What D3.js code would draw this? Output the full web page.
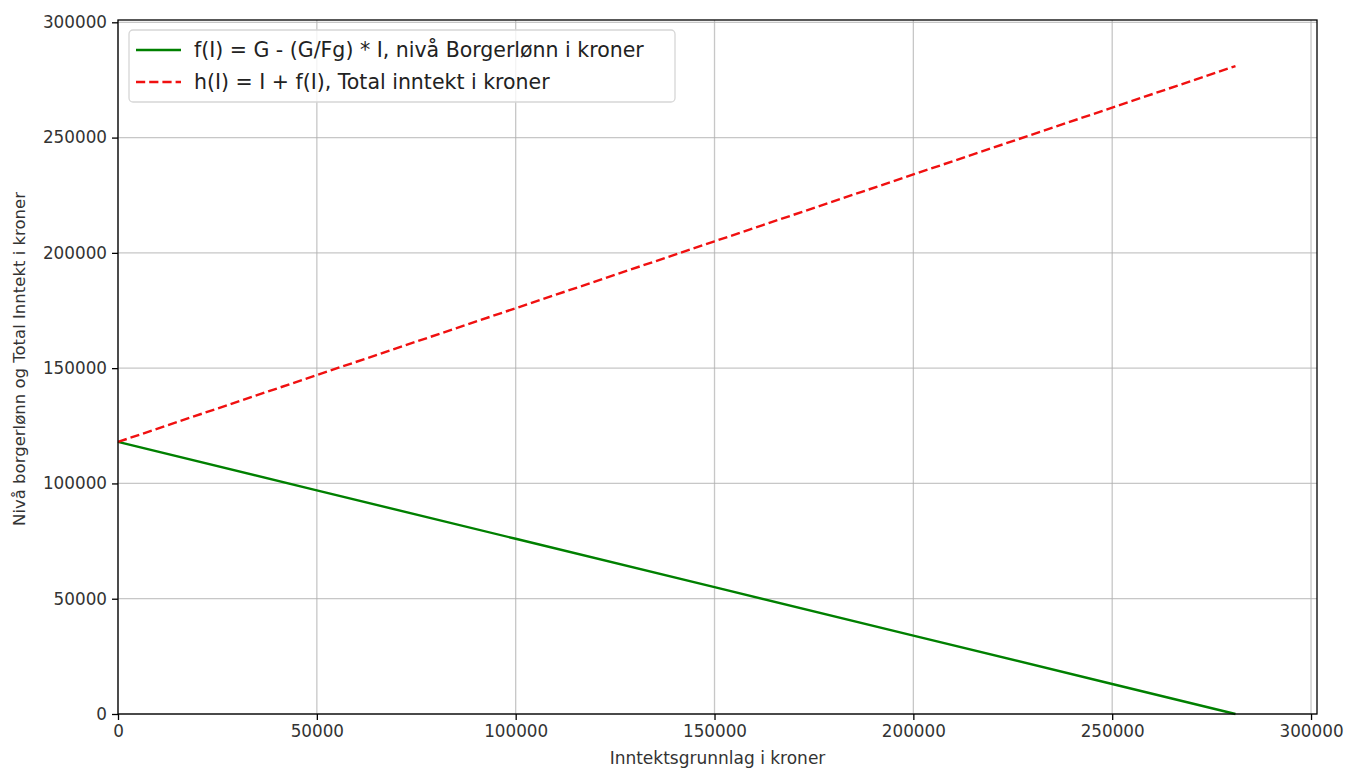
<!DOCTYPE html>
<html>
<head>
<meta charset="utf-8">
<script src="https://cdn.jsdelivr.net/npm/d3@7"></script>
<style>
  body { margin: 0; background: #fff; }
  svg { display: block; font-family: "DejaVu Sans", sans-serif; }
</style>
</head>
<body>
<svg id="chart" width="1347" height="769"></svg>
<script>
// values
var income = [0, 50000, 100000, 150000, 200000, 250000, 281000];
var borgerlonn = [118000, 97000, 76000, 55000, 34000, 13000, 0];
var total = [118000, 147000, 176000, 205000, 234000, 263000, 281000];
var xTicks = [0, 50000, 100000, 150000, 200000, 250000, 300000];
var yTicks = [0, 50000, 100000, 150000, 200000, 250000, 300000];
var legendLabels = ["f(I) = G - (G/Fg) * I, nivå Borgerlønn i kroner",
                    "h(I) = I + f(I), Total inntekt i kroner"];

// plot box (window.top is taken, so own names)
var pLeft = 118, pRight = 1317, pTop = 20, pBottom = 714;

var svg = d3.select("#chart");

var x = d3.scaleLinear().domain([0, 301500]).range([pLeft, pRight]);
var y = d3.scaleLinear().domain([0, 301000]).range([pBottom, pTop]);

//grid
svg.append("g").selectAll("line.gx")
    .data(xTicks).enter().append("line")
    .attr("x1", function(d) { return x(d); })
    .attr("x2", function(d) { return x(d); })
    .attr("y1", pTop).attr("y2", pBottom)
    .attr("stroke", "#b0b0b0").attr("stroke-width", 1.3).attr("opacity", 0.7);
svg.append("g").selectAll("line.gy")
    .data(yTicks).enter().append("line")
    .attr("y1", function(d) { return y(d); })
    .attr("y2", function(d) { return y(d); })
    .attr("x1", pLeft).attr("x2", pRight)
    .attr("stroke", "#b0b0b0").attr("stroke-width", 1.3).attr("opacity", 0.7);

// lines
var pts = function(vals) { return income.map(function(d, i) { return [d, vals[i]]; }); };
var line = d3.line()
    .x(function(d) { return x(d[0]); })
    .y(function(d) { return y(d[1]); });

svg.append("path")
    .datum(pts(borgerlonn))
    .attr("d", line)
    .attr("fill", "none")
    .attr("stroke", "#008000")
    .attr("stroke-width", 2.4);

svg.append("path")
    .datum(pts(total))
    .attr("d", line)
    .attr("fill", "none")
    .attr("stroke", "#f01010")
    .attr("stroke-width", 2.4)
    .attr("stroke-dasharray", "9.2,4");

// axes
var xAxis = d3.axisBottom(x).tickValues(xTicks).tickSize(6).tickPadding(5).tickFormat(d3.format("d"));
var yAxis = d3.axisLeft(y).tickValues(yTicks).tickSize(6).tickPadding(5).tickFormat(d3.format("d"));

svg.append("g")
    .attr("transform", "translate(0," + pBottom + ")")
    .call(xAxis)
    .call(function(g) { g.select(".domain").remove(); })
    .selectAll("text").attr("font-size", 16.8).attr("fill", "#333").attr("font-family", "DejaVu Sans");
svg.append("g")
    .attr("transform", "translate(" + pLeft + ",0)")
    .call(yAxis)
    .call(function(g) { g.select(".domain").remove(); })
    .selectAll("text").attr("font-size", 16.8).attr("fill", "#333").attr("font-family", "DejaVu Sans");
svg.selectAll(".tick line").attr("stroke", "#000").attr("stroke-width", 1.3);

// frame
svg.append("rect")
    .attr("x", pLeft).attr("y", pTop)
    .attr("width", pRight - pLeft).attr("height", pBottom - pTop)
    .attr("fill", "none").attr("stroke", "#000").attr("stroke-width", 1.3);

// axis labels
svg.append("text")
    .attr("x", (pLeft + pRight) / 2).attr("y", 764)
    .attr("text-anchor", "middle").attr("font-size", 17).attr("fill", "#333")
    .text("Inntektsgrunnlag i kroner");
svg.append("text")
    .attr("transform", "translate(25," + ((pTop + pBottom) / 2 - 8) + ") rotate(-90)")
    .attr("text-anchor", "middle").attr("font-size", 16.5).attr("fill", "#333")
    .text("Nivå borgerlønn og Total Inntekt i kroner");

// legend
var legend = svg.append("g");
legend.append("rect")
    .attr("x", 129).attr("y", 30).attr("width", 546).attr("height", 72).attr("rx", 4)
    .attr("fill", "#fff").attr("fill-opacity", 0.8)
    .attr("stroke", "#d6d6d6").attr("stroke-width", 1.3);
var colors = ["#008000", "#f01010"];
var dashes = [null, "9.2,4"];
legendLabels.forEach(function(lab, i) {
  var cy = 50 + i * 32;
  legend.append("line")
      .attr("x1", 136).attr("x2", 181).attr("y1", cy).attr("y2", cy)
      .attr("stroke", colors[i]).attr("stroke-width", 2.4)
      .attr("stroke-dasharray", dashes[i]);
  legend.append("text")
      .attr("x", 194).attr("y", cy).attr("dy", "0.36em")
      .attr("font-size", 20.5).attr("fill", "#222")
      .text(lab);
});
</script>
</body>
</html>
